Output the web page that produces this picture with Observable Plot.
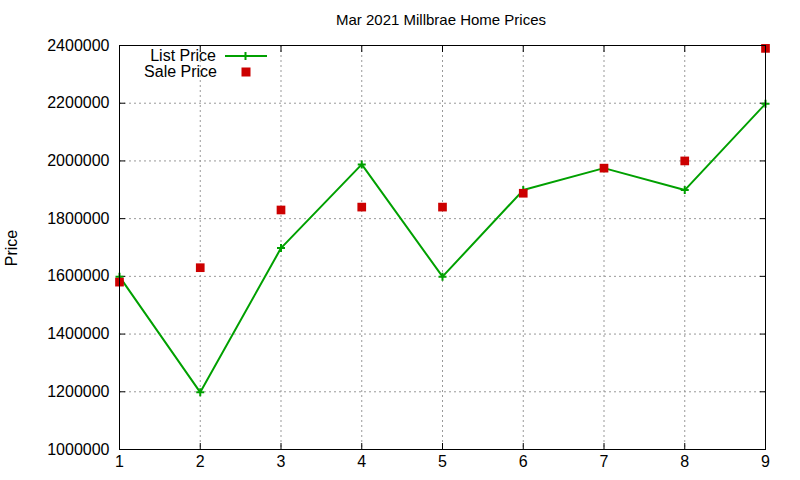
<!DOCTYPE html>
<html>
<head>
<meta charset="utf-8">
<script src="https://cdn.jsdelivr.net/npm/d3@7"></script>
<script src="https://cdn.jsdelivr.net/npm/@observablehq/plot@0.6"></script>
<style>
  html, body { margin: 0; padding: 0; background: #fff; }
  svg { font-family: "Liberation Sans", Arial, sans-serif; }
</style>
</head>
<body>
<div id="chart"></div>
<script>
const titleText = "Mar 2021 Millbrae Home Prices";
const yLabel = "Price";
const seriesNames = ["List Price", "Sale Price"];
const homes = [1, 2, 3, 4, 5, 6, 7, 8, 9];
const listPrice = [1599000, 1198000, 1698000, 1988000, 1599000, 1899000, 1975000, 1899000, 2198000];
const salePrice = [1580000, 1630000, 1830000, 1840000, 1840000, 1888000, 1975000, 2000000, 2390000];
const xTicks = [1, 2, 3, 4, 5, 6, 7, 8, 9];
const yTicks = [1000000, 1200000, 1400000, 1600000, 1800000, 2000000, 2200000, 2400000];

const listColor = "#00a000";
const saleColor = "#cc0000";

const listData = homes.map((h, i) => ({x: h, y: listPrice[i]}));
const saleData = homes.map((h, i) => ({x: h, y: salePrice[i]}));

const fmt = d3.format("d");

const plot = Plot.plot({
  width: 800,
  height: 480,
  marginLeft: 119,
  marginRight: 35,
  marginTop: 45,
  marginBottom: 31,
  style: {fontFamily: "Liberation Sans, Arial, sans-serif", fontSize: "16px", color: "#000", background: "#fff"},
  x: {domain: [1, 9], ticks: xTicks, label: null},
  y: {domain: [1000000, 2400000], ticks: yTicks, label: null},
  marks: [
    Plot.gridX(xTicks, {stroke: "#999", strokeOpacity: 1, strokeDasharray: "2,3", strokeWidth: 1}),
    Plot.gridY(yTicks, {stroke: "#999", strokeOpacity: 1, strokeDasharray: "2,3", strokeWidth: 1}),
    Plot.axisX(xTicks, {anchor: "bottom", tickSize: 0, tickPadding: 6, tickFormat: fmt, fontSize: 16, label: null}),
    Plot.axisY(yTicks, {anchor: "left", tickSize: 0, tickPadding: 10, tickFormat: fmt, fontSize: 16, label: null}),
    Plot.axisX(xTicks, {anchor: "bottom", tickSize: -6, tickFormat: () => "", label: null}),
    Plot.axisX(xTicks, {anchor: "top", tickSize: -6, tickFormat: () => "", label: null}),
    Plot.axisY(yTicks, {anchor: "left", tickSize: -6, tickFormat: () => "", label: null}),
    Plot.axisY(yTicks, {anchor: "right", tickSize: -6, tickFormat: () => "", label: null}),
    Plot.line(listData, {x: "x", y: "y", stroke: listColor, strokeWidth: 2}),
    Plot.dot(listData, {x: "x", y: "y", symbol: "plus", stroke: listColor, strokeWidth: 2, r: 2.7}),
    Plot.dot(saleData, {x: "x", y: "y", symbol: "square", fill: saleColor, stroke: null, r: 4.9}),
    Plot.frame({stroke: "#000", strokeWidth: 1})
  ]
});

const svg = d3.select(plot);
svg.append("text")
  .attr("x", 441).attr("y", 25)
  .attr("text-anchor", "middle")
  .attr("font-size", 15)
  .attr("fill", "#000")
  .text(titleText);
svg.append("text")
  .attr("transform", "translate(17,248) rotate(-90)")
  .attr("text-anchor", "middle")
  .attr("font-size", 16)
  .attr("fill", "#000")
  .text(yLabel);

const leg = svg.append("g").attr("font-size", 16).attr("fill", "#000");
leg.append("text").attr("x", 216).attr("y", 61).attr("text-anchor", "end").text(seriesNames[0]);
leg.append("line").attr("x1", 225).attr("x2", 267).attr("y1", 56).attr("y2", 56)
  .attr("stroke", listColor).attr("stroke-width", 2);
leg.append("path").attr("d", "M241.5,56h8M245.5,52v8").attr("stroke", listColor).attr("stroke-width", 2);
leg.append("text").attr("x", 217).attr("y", 77).attr("text-anchor", "end").text(seriesNames[1]);
leg.append("rect").attr("x", 241.5).attr("y", 67.5).attr("width", 9).attr("height", 9).attr("fill", saleColor);

document.getElementById("chart").appendChild(plot);
</script>
</body>
</html>
